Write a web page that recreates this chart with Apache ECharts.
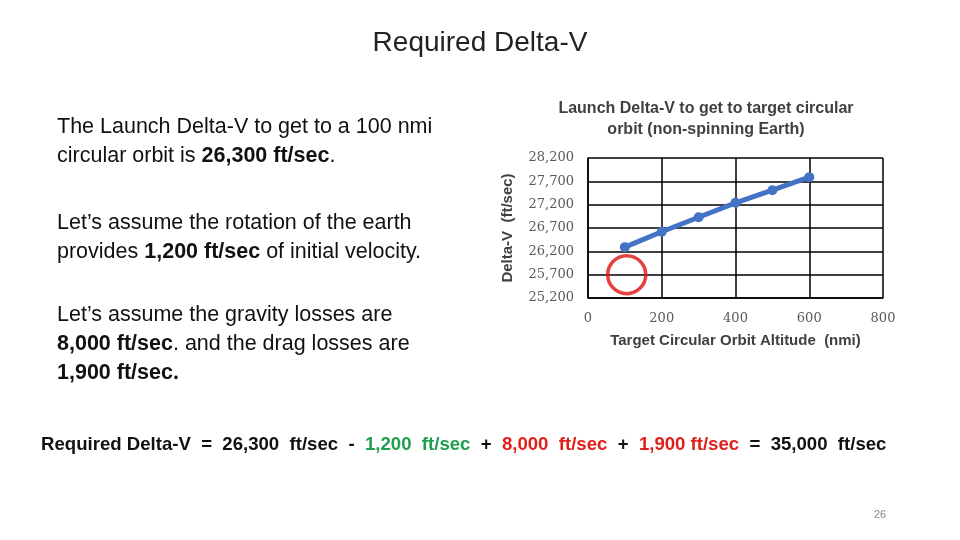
<!DOCTYPE html>
<html lang="en">
<head>
    <meta charset="utf-8">
    <title>Required Delta-V</title>
    <style>
        html, body { margin: 0; padding: 0; background: #fff; }
        #main { width: 960px; height: 540px; }
    </style>
</head>
<body>
<div id="main"></div>
<script src="https://cdn.jsdelivr.net/npm/echarts@6/dist/echarts.min.js"></script>
<script>
// altitude (nmi) and launch delta-v (ft/sec)
var altitude = [100, 200, 300, 400, 500, 600];
var deltaV = [26290, 26620, 26930, 27240, 27510, 27790];
// red ring marking the 100 nmi point
var markPoint = [105, 25700];
var yTicks = [25200, 25700, 26200, 26700, 27200, 27700, 28200];
var xTicks = [0, 200, 400, 600, 800];

var sans = 'Liberation Sans';
var chart = echarts.init(document.getElementById('main'));

function fmt(v) {
    return String(v).replace(/\B(?=(\d{3})+(?!\d))/g, ',');
}

chart.setOption({
    backgroundColor: '#fff',
    animation: false,
    title: [{
        text: 'Required Delta-V',
        left: 'center',
        top: 24,
        textStyle: { fontFamily: sans, fontSize: 28, fontWeight: 'normal', color: '#222' }
    }, {
        text: 'Launch Delta-V to get to target circular\norbit (non-spinning Earth)',
        left: 701,
        top: 93,
        textAlign: 'center',
        textStyle: { fontFamily: sans, fontSize: 16, fontWeight: 'bold', color: '#404040', lineHeight: 21 }
    }],
    grid: { left: 588, right: 77, top: 158, bottom: 242 },
    xAxis: {
        type: 'value',
        min: xTicks[0], max: xTicks[xTicks.length - 1], interval: 200,
        name: 'Target Circular Orbit Altitude  (nmi)',
        nameLocation: 'middle',
        nameGap: 35,
        nameTextStyle: { fontFamily: sans, fontSize: 15, fontWeight: 'bold', color: '#404040' },
        axisLine: { show: true, lineStyle: { color: '#000', width: 1.5 } },
        axisTick: { show: false },
        axisLabel: { margin: 14, fontFamily: 'DejaVu Serif', fontSize: 13, color: '#595959' },
        splitLine: { show: true, lineStyle: { color: '#000', width: 1.5 } }
    },
    yAxis: {
        type: 'value',
        min: yTicks[0], max: yTicks[yTicks.length - 1], interval: 500,
        name: 'Delta-V  (ft/sec)',
        nameLocation: 'middle',
        nameGap: 73,
        nameTextStyle: { fontFamily: sans, fontSize: 15, fontWeight: 'bold', color: '#404040' },
        axisLine: { show: true, lineStyle: { color: '#000', width: 1.5 } },
        axisTick: { show: false },
        axisLabel: { margin: 14, fontFamily: 'DejaVu Serif', fontSize: 13, color: '#595959', formatter: fmt },
        splitLine: { show: true, lineStyle: { color: '#000', width: 1.5 } }
    },
    series: [{
        type: 'line',
        data: altitude.map(function (a, i) { return [a, deltaV[i]]; }),
        symbol: 'circle',
        symbolSize: 10,
        lineStyle: { color: '#4472c4', width: 5 },
        itemStyle: { color: '#4472c4' },
        z: 3
    }, {
        type: 'scatter',
        data: [markPoint],
        symbol: 'circle',
        symbolSize: 38,
        itemStyle: { color: 'rgba(0,0,0,0)', borderColor: '#e01010', borderWidth: 3.5 },
        z: 4
    }],
    graphic: [{
        type: 'text',
        left: 57, top: 113,
        style: {
            text: 'The Launch Delta-V to get to a 100 nmi\ncircular orbit is {b|26,300 ft/sec}.',
            font: '21.5px ' + sans, fill: '#111', lineHeight: 29,
            rich: { b: { font: 'bold 21.5px ' + sans, fill: '#111' } }
        }
    }, {
        type: 'text',
        left: 57, top: 209,
        style: {
            text: 'Let\u2019s assume the rotation of the earth\nprovides {b|1,200 ft/sec} of initial velocity.',
            font: '21.5px ' + sans, fill: '#111', lineHeight: 29,
            rich: { b: { font: 'bold 21.5px ' + sans, fill: '#111' } }
        }
    }, {
        type: 'text',
        left: 57, top: 301,
        style: {
            text: 'Let\u2019s assume the gravity losses are\n{b|8,000 ft/sec}. and the drag losses are\n{b|1,900 ft/sec.}',
            font: '21.5px ' + sans, fill: '#111', lineHeight: 29,
            rich: { b: { font: 'bold 21.5px ' + sans, fill: '#111' } }
        }
    }, {
        type: 'text',
        left: 41, top: 435,
        style: {
            text: 'Required Delta-V  =  26,300  ft/sec  -  {g|1,200  ft/sec}  +  {r|8,000  ft/sec}  +  {r|1,900 ft/sec}  =  35,000  ft/sec',
            font: 'bold 18.6px ' + sans, fill: '#111',
            rich: {
                g: { font: 'bold 18.6px ' + sans, fill: '#1f9e4e' },
                r: { font: 'bold 18.6px ' + sans, fill: '#e0201a' }
            }
        }
    }, {
        type: 'text',
        left: 874, top: 509,
        style: { text: '26', font: '11px ' + sans, fill: '#888' }
    }]
});
</script>
</body>
</html>
